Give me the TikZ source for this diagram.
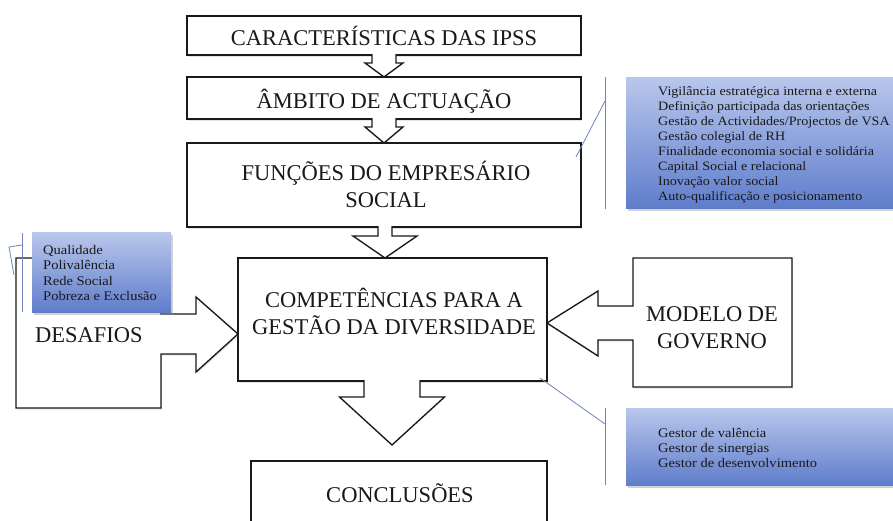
\documentclass[tikz,border=0pt]{standalone}
\usepackage{fontspec}
\setmainfont{Liberation Serif}
\newfontfamily\listfont[FakeStretch=1.1]{Liberation Serif}
\usetikzlibrary{calc,shadows}
\definecolor{bluetop}{RGB}{185,199,236}
\definecolor{bluebot}{RGB}{95,125,203}
\definecolor{callcol}{RGB}{110,130,190}
\definecolor{inkcol}{RGB}{25,25,25}
% #1 source node, #2 target node, #3 x offset from target centre, #4 stem half width,
% #5 head half width, #6 stem length, #7 gap between tip and target
\newcommand\blockdown[7]{%
  \draw[blockarr]
    ($(#1.south -| #2.north)+(#3-#4,-1)$) --
    ($(#1.south -| #2.north)+(#3-#4,#6)$) -- ++(#4-#5,0) --
    ($(#2.north)+(#3,-#7)$) --
    ($(#1.south -| #2.north)+(#3+#5,#6)$) -- ++(#4-#5,0) --
    ($(#1.south -| #2.north)+(#3+#4,-1)$);
}
\begin{document}
\begin{tikzpicture}[x=1pt,y=-1pt,
  boxnode/.style={draw=inkcol, line width=1.35pt, fill=white, inner sep=0pt, outer sep=0pt,
    anchor=north west, drop shadow={opacity=0.2, shadow xshift=1.2pt, shadow yshift=-1.5pt}},
  bluebox/.style={inner sep=0pt, outer sep=0pt, anchor=north west, top color=bluetop,
    bottom color=bluebot, draw=none,
    drop shadow={opacity=0.35, shadow xshift=2pt, shadow yshift=-3pt}},
  titletext/.style={inner sep=0pt, anchor=base, font=\fontsize{22.5}{27}\selectfont, text=inkcol},
  listtext/.style={inner sep=0pt, anchor=base west, text=inkcol},
  blockarr/.style={draw=inkcol, line width=1.35pt, fill=white, line join=miter},
  shapeshadow/.style={drop shadow={opacity=0.2, shadow xshift=1.2pt, shadow yshift=-1.5pt}},
  callline/.style={draw=callcol, line width=0.8pt}]
\useasboundingbox[fill=white] (0,0) rectangle (893,520);

% main boxes
\node[boxnode, minimum width=394pt, minimum height=39pt] (b1) at (187,16) {};
\node[boxnode, minimum width=394pt, minimum height=42pt] (b2) at (187,77) {};
\node[boxnode, minimum width=394pt, minimum height=84pt] (b3) at (187,143) {};
\node[boxnode, minimum width=309pt, minimum height=123pt] (b4) at (238,258) {};
\node[boxnode, minimum width=296pt, minimum height=70pt] (b5) at (251,461) {};

% DESAFIOS callout
\draw[blockarr, shapeshadow] (16,258) -- (161,258) -- (161,314) -- (196,314) -- (196,297)
  -- ($(b4.west)+(0,14.5)$) -- (196,372) -- (196,354) -- (161,354) -- (161,408) -- (16,408) -- cycle;
\node[titletext, anchor=base west] (desafios) at (35,342.5) {DESAFIOS};

% MODELO DE GOVERNO callout
\draw[blockarr, shapeshadow] (633,258) -- (792,258) -- (792,387) -- (633,387) -- (633,340)
  -- (598,340) -- (598,356) -- ($(b4.east)+(0,3.5)$) -- (598,291) -- (598,306) -- (633,306) -- cycle;
\node[titletext] (modelo) at (712,321) {\begin{tabular}[t]{@{}c@{}}MODELO DE\\GOVERNO\end{tabular}};

% block arrows between boxes
\blockdown{b1}{b2}{0}{12}{19}{8}{0}
\blockdown{b2}{b3}{0}{12}{19}{8}{0}
\blockdown{b3}{b4}{-7.5}{7}{32}{9}{0}
\blockdown{b4}{b5}{-7}{28}{52.5}{16}{16}

% titles
\node[titletext] (t1) at ($(b1.center)+(0,10)$) {CARACTERÍSTICAS DAS IPSS};
\node[titletext] (t2) at ($(b2.center)+(0,10.5)$) {ÂMBITO DE ACTUAÇÃO};
\node[titletext] (t3) at ($(b3.center)+(2,-4.5)$) {\begin{tabular}[t]{@{}c@{}}FUNÇÕES DO EMPRESÁRIO\\SOCIAL\end{tabular}};
\node[titletext] (t4) at ($(b4.center)+(1.5,-12)$) {\begin{tabular}[t]{@{}c@{}}COMPETÊNCIAS PARA A\\GESTÃO DA DIVERSIDADE\end{tabular}};
\node[titletext] (t5) at ($(b5.center)+(1,6.5)$) {CONCLUSÕES};

% blue lists
\node[bluebox, minimum width=280pt, minimum height=131pt] (r1) at (626,77) {};
\node[bluebox, minimum width=139pt, minimum height=80pt] (r2) at (32,232) {};
\node[bluebox, minimum width=280pt, minimum height=77pt] (r3) at (626,408) {};

\node[listtext, font=\listfont\fontsize{12.8}{15}\selectfont] (l1) at (658,95)
  {\begin{tabular}[t]{@{}l@{}}Vigilância estratégica interna e externa\\
   Definição participada das orientações\\
   Gestão de Actividades/Projectos de VSA\\
   Gestão colegial de RH\\
   Finalidade economia social e solidária\\
   Capital Social e relacional\\
   Inovação valor social\\
   Auto-qualificação e posicionamento\end{tabular}};
\node[listtext, font=\listfont\fontsize{13.2}{15.5}\selectfont] (l2) at (43,254)
  {\begin{tabular}[t]{@{}l@{}}Qualidade\\Polivalência\\Rede Social\\Pobreza e Exclusão\end{tabular}};
\node[listtext, font=\listfont\fontsize{13.2}{15}\selectfont] (l3) at (658,437)
  {\begin{tabular}[t]{@{}l@{}}Gestor de valência\\Gestor de sinergias\\Gestor de desenvolvimento\end{tabular}};

% callout connectors
\coordinate (k1a) at (605,77);
\coordinate (k1b) at (605,209);
\coordinate (k1c) at (605,101);
\coordinate (k1d) at (576,157);
\draw[callline] (k1a) -- (k1b);
\draw[callline] (k1c) -- (k1d);

\coordinate (k3a) at (605,408);
\coordinate (k3b) at (605,485);
\coordinate (k3c) at (605,424);
\coordinate (k3d) at (540,378);
\draw[callline] (k3a) -- (k3b);
\draw[callline] (k3c) -- (k3d);

\coordinate (k2a) at (22,233);
\coordinate (k2b) at (22,312);
\coordinate (k2c) at (22,245);
\coordinate (k2d) at (9,247);
\coordinate (k2e) at (14,275);
\draw[callline] (k2a) -- (k2b);
\draw[callline] (k2c) -- (k2d) -- (k2e);
\end{tikzpicture}
\end{document}
